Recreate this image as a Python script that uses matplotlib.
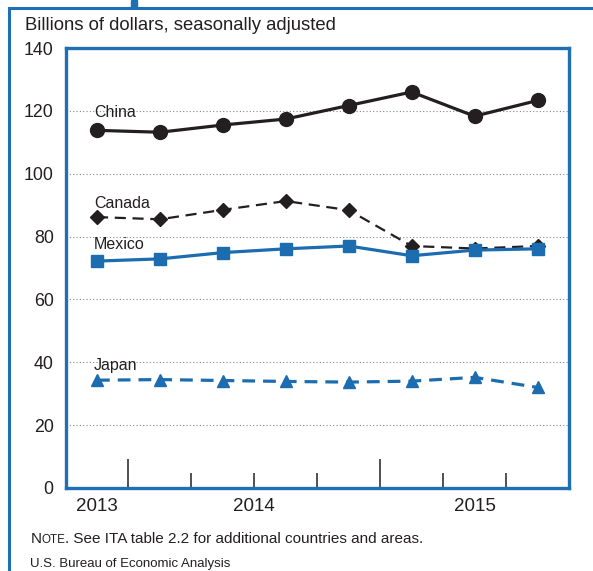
import matplotlib
matplotlib.use("Agg")
import matplotlib.pyplot as plt
from matplotlib.lines import Line2D
from matplotlib.patches import Rectangle
from matplotlib import font_manager

plt.rcParams['font.family'] = ['Liberation Sans', 'DejaVu Sans']

quarters = ["2013Q4", "2014Q1", "2014Q2", "2014Q3", "2014Q4", "2015Q1", "2015Q2", "2015Q3"]
china = [113.8, 113.2, 115.5, 117.4, 121.7, 126.0, 118.3, 123.3]
canada = [86.2, 85.5, 88.5, 91.3, 88.4, 77.0, 76.2, 77.0]
mexico = [72.2, 72.9, 74.9, 76.1, 77.0, 73.9, 75.7, 76.1]
japan = [34.3, 34.5, 34.2, 33.9, 33.7, 34.0, 35.2, 32.0]
year_labels = ["2013", "2014", "2015"]
y_ticks = [0, 20, 40, 60, 80, 100, 120, 140]

# narrow font for notes, if available
try:
    font_manager.findfont("Liberation Sans Narrow", fallback_to_default=False)
    NARROW = ["Liberation Sans Narrow", "Liberation Sans"]
    nscale = 1.0
    has_narrow = True
except Exception:
    NARROW = ["Liberation Sans", "DejaVu Sans"]
    has_narrow = False

W, H = 593, 571
fig = plt.figure(figsize=(W / 100, H / 100), dpi=100)
BLUE = "#1f6fb5"
LBLUE = "#1c6cb0"
DARK = "#231f20"

# outer frame
fig.add_artist(Line2D([9 / W, 9 / W], [0, 1 - 8 / H], color=BLUE, lw=2.2, transform=fig.transFigure))
fig.add_artist(Line2D([9 / W, 1], [1 - 8 / H, 1 - 8 / H], color=BLUE, lw=2.2, transform=fig.transFigure))
fig.add_artist(Rectangle((131 / W, 1 - 8 / H), 6 / W, 8 / H, color=BLUE, transform=fig.transFigure))

ax = fig.add_axes([65.5 / W, 83 / H, 503.5 / W, 440 / H])
x = list(range(len(quarters)))

ax.plot(x, china, color=DARK, lw=2.3, marker="o", ms=10, zorder=5)
ax.plot(x, canada, color=DARK, lw=1.6, ls=(0, (5, 3)), marker="D", ms=7, zorder=5)
ax.plot(x, mexico, color=LBLUE, lw=2.3, marker="s", ms=9, zorder=5)
ax.plot(x, japan, color=LBLUE, lw=2.3, ls=(0, (4, 2.5)), marker="^", ms=9, zorder=5)

ax.set_xlim(-0.5, 7.5)
ax.set_ylim(0, 140)
for v in [20, 40, 60, 80, 100, 120]:
    ax.axhline(v, color="#888888", lw=0.8, ls=(0, (1, 2)), zorder=1)

for s in ax.spines.values():
    s.set_color(BLUE)
    s.set_linewidth(2.4)

ax.set_yticks(y_ticks)
ax.set_yticklabels([str(t) for t in y_ticks], fontsize=12.8, color=DARK)
ax.tick_params(axis="y", length=0, pad=8.5)

ax.set_xticks([0.5, 4.5])
ax.set_xticklabels([])
ax.tick_params(axis="x", which="major", direction="in", length=21, width=1.1, color=DARK)
ax.set_xticks([1.5, 2.5, 3.5, 5.5, 6.5], minor=True)
ax.tick_params(axis="x", which="minor", direction="in", length=11, width=1.1, color=DARK)

for xp, lab in zip([0, 2.5, 6], year_labels):
    ax.text(xp, -3.3, lab, ha="center", va="top", fontsize=13.5, color=DARK)

lbl = dict(fontsize=11.5, color=DARK, ha="left", va="center", zorder=6)
ax.text(-0.05, 119.4, "China", **lbl)
ax.text(-0.05, 90.4, "Canada", **lbl)
ax.text(-0.05, 77.4, "Mexico", **lbl)
ax.text(-0.05, 38.9, "Japan", **lbl)

fig.text(25 / W, 1 - 26 / H, "Billions of dollars, seasonally adjusted", fontsize=13.3,
         color=DARK, ha="left", va="center")

note_size = 13.2 if has_narrow else 11
bur_size = 11.5 if has_narrow else 9.5
t1 = fig.text(30.5 / W, 1 - 543 / H, "N", fontsize=note_size, family=NARROW, color=DARK,
              ha="left", va="baseline")
fig.canvas.draw()
bb = t1.get_window_extent()
t2 = fig.text(bb.x1 / W, 1 - 543 / H, "OTE", fontsize=note_size * 0.76, family=NARROW, color=DARK,
              ha="left", va="baseline")
fig.canvas.draw()
bb2 = t2.get_window_extent()
fig.text(bb2.x1 / W, 1 - 543 / H, ". See ITA table 2.2 for additional countries and areas.",
         fontsize=note_size, family=NARROW, color=DARK, ha="left", va="baseline")
fig.text(30.5 / W, 1 - 567 / H, "U.S. Bureau of Economic Analysis", fontsize=bur_size, family=NARROW,
         color=DARK, ha="left", va="baseline")

fig.savefig("out.png", dpi=100)
